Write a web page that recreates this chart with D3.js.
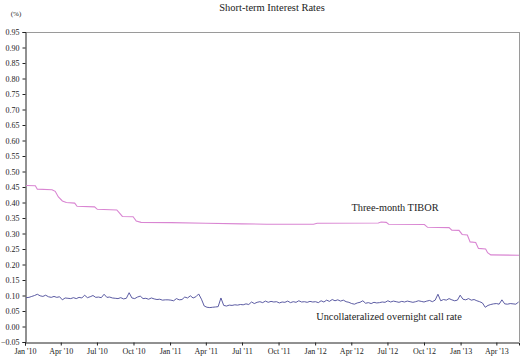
<!DOCTYPE html>
<html><head><meta charset="utf-8">
<script src="https://cdn.jsdelivr.net/npm/d3@7"></script>
<style>body{margin:0;background:#fff}svg{display:block}text{font-family:"Liberation Serif","Times New Roman",serif;fill:#222}</style>
</head><body><svg id="c" width="521" height="356"></svg>
<script>
const title = "Short-term Interest Rates";
const unitLabel = "(%)";
const yTicks = [-0.05,0,0.05,0.1,0.15,0.2,0.25,0.3,0.35,0.4,0.45,0.5,0.55,0.6,0.65,0.7,0.75,0.8,0.85,0.9,0.95];
const xTickDates = ["2010-01-01","2010-04-01","2010-07-01","2010-10-01","2011-01-01","2011-04-01","2011-07-01","2011-10-01","2012-01-01","2012-04-01","2012-07-01","2012-10-01","2013-01-01","2013-04-01"];
const xTickLabels = ["Jan '10","Apr '10","Jul '10","Oct '10","Jan '11","Apr '11","Jul '11","Oct '11","Jan '12","Apr '12","Jul '12","Oct '12","Jan '13","Apr '13"];
const xDomain = ["2010-01-01","2013-05-28"];

const tiborDates = ["2010-01-04","2010-01-27","2010-02-01","2010-03-10","2010-03-18","2010-03-26","2010-04-05","2010-04-15","2010-05-06","2010-05-12","2010-06-25","2010-07-02","2010-08-20","2010-08-27","2010-09-03","2010-09-30","2010-10-08","2010-10-20","2011-01-04","2011-04-01","2011-07-01","2011-09-01","2011-12-28","2012-01-06","2012-06-08","2012-06-15","2012-06-28","2012-07-04","2012-10-02","2012-10-10","2012-12-03","2012-12-10","2012-12-28","2013-01-05","2013-01-18","2013-01-25","2013-02-08","2013-02-15","2013-03-05","2013-03-10","2013-03-18","2013-05-28"];
const tiborValues = [0.455,0.454,0.443,0.441,0.436,0.418,0.405,0.400,0.398,0.388,0.386,0.378,0.376,0.366,0.355,0.354,0.340,0.336,0.335,0.333,0.331,0.330,0.330,0.333,0.334,0.337,0.336,0.330,0.329,0.320,0.319,0.311,0.310,0.297,0.295,0.273,0.271,0.252,0.250,0.238,0.231,0.230];

const callStart = "2010-01-04"; // weekly observations from this Monday
const callValues = [
 0.093,0.094,0.097,0.100,0.104,0.099,0.097,0.101,0.096,0.094,0.097,0.094,0.096,
 0.086,0.092,0.091,0.090,0.093,0.090,0.094,0.092,0.101,0.093,0.096,0.100,0.094,
 0.095,0.093,0.104,0.094,0.095,0.092,0.091,0.090,0.093,0.089,0.091,0.109,0.092,
 0.090,0.095,0.098,0.090,0.091,0.088,0.092,0.089,0.087,0.088,0.085,0.086,0.086,
 0.085,0.083,0.090,0.086,0.087,0.095,0.092,0.099,0.092,0.096,0.105,0.088,0.066,
 0.062,0.061,0.062,0.063,0.064,0.092,0.068,0.066,0.069,0.068,0.070,0.069,0.071,
 0.070,0.073,0.071,0.079,0.074,0.078,0.080,0.077,0.082,0.078,0.081,0.079,0.080,
 0.076,0.079,0.078,0.082,0.077,0.080,0.078,0.083,0.079,0.080,0.078,0.081,0.079,
 0.080,0.077,0.083,0.079,0.085,0.081,0.087,0.083,0.086,0.082,0.085,0.080,0.078,
 0.074,0.072,0.076,0.078,0.083,0.075,0.077,0.074,0.078,0.076,0.077,0.079,0.078,
 0.083,0.079,0.082,0.080,0.078,0.081,0.079,0.082,0.080,0.078,0.080,0.083,0.081,
 0.079,0.082,0.084,0.080,0.085,0.104,0.083,0.087,0.085,0.090,0.086,0.083,0.085,0.101,
 0.088,0.086,0.090,0.085,0.087,0.083,0.080,0.076,0.062,0.068,0.071,0.073,0.074,0.072,0.086,0.073,0.072,0.074,0.073,0.072,0.079
];
const seriesNames = ["Three-month TIBOR","Uncollateralized overnight call rate"];
const seriesColors = ["#d985d2","#4a4a98"];

const parse = d3.utcParse("%Y-%m-%d");
const svg = d3.select("#c");
const L = 25, R = 519, T = 32, B = 342;
const x = d3.scaleUtc().domain(xDomain.map(parse)).range([L, R]);
const y = d3.scaleLinear().domain([-0.05, 0.95]).range([B, T]);

// frame (top/right gray)
svg.append("line").attr("x1",L).attr("x2",R).attr("y1",T+0.5).attr("y2",T+0.5).attr("stroke","#9a9a9a");
svg.append("line").attr("x1",R+0.5).attr("x2",R+0.5).attr("y1",T).attr("y2",B).attr("stroke","#9a9a9a");

const yAxis = svg.append("g").attr("transform",`translate(${L+0.5},0)`)
  .call(d3.axisLeft(y).tickValues(yTicks).tickSize(3).tickPadding(3).tickFormat(d3.format(".2f")));
const xDates = xTickDates.map(parse);
const xAxis = svg.append("g").attr("transform",`translate(0,${B+0.5})`)
  .call(d3.axisBottom(x).tickValues(xDates).tickSize(3).tickPadding(3).tickFormat((d,i)=>xTickLabels[i]));
[yAxis,xAxis].forEach(g=>{
  g.selectAll("path").attr("stroke","#222");
  g.selectAll("line").attr("stroke","#222");
  g.selectAll("text").style("font-size","8px").attr("fill","#333").style("font-family","'Liberation Serif',serif");
});

const tibor = tiborDates.map((d,i)=>({d:parse(d),v:tiborValues[i]}));
const s0 = parse(callStart);
const call = callValues.map((v,i)=>({d:d3.utcDay.offset(s0, i*7), v}));
const line = d3.line().x(p=>x(p.d)).y(p=>y(p.v));
svg.append("path").datum(tibor).attr("d",line).attr("fill","none").attr("stroke",seriesColors[0]).attr("stroke-width",1.1);
svg.append("path").datum(call).attr("d",line).attr("fill","none").attr("stroke",seriesColors[1]).attr("stroke-width",0.9);

svg.append("text").attr("x",272).attr("y",11).attr("text-anchor","middle").style("font-size","10.5px").text(title);
svg.append("text").attr("x",16).attr("y",16).attr("text-anchor","middle").style("font-size","7px").text(unitLabel);
svg.append("text").attr("x",395).attr("y",211).attr("text-anchor","middle").style("font-size","10.3px").text(seriesNames[0]);
svg.append("text").attr("x",389).attr("y",320).attr("text-anchor","middle").style("font-size","10.3px").text(seriesNames[1]);
</script></body></html>
